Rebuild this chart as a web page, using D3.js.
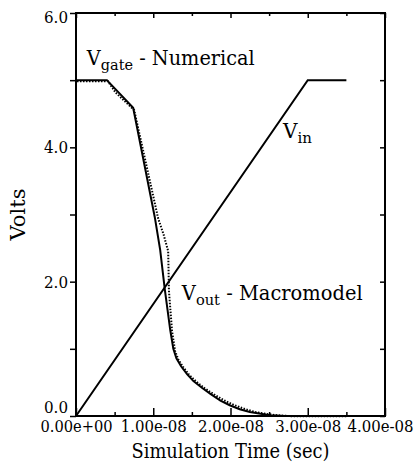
<!DOCTYPE html>
<html lang="en">
<head>
  <meta charset="UTF-8">
  <title>Vgate / Vout transient</title>
  <script src="https://d3js.org/d3.v7.min.js"></script>
  <style>
    body { margin: 0; background: #fff; }
    svg { display: block; }
    svg text { font-family: "DejaVu Serif", serif; fill: #000; }
    .tick text { font-size: 16px; }
    .tick line { stroke: #000; stroke-width: 1.5px; }
    .label { font-size: 20px; }
  </style>
</head>
<body>
  <svg width="420" height="464"></svg>

  <script>
    // time in seconds, volts
    const vinTime = [0, 3.0e-8, 3.5e-8];
    const vinVolts = [0, 5.0, 5.0];

    const macroTime = [0, 0.40e-8, 0.74e-8, 1.02e-8, 1.09e-8, 1.15e-8, 1.22e-8, 1.26e-8, 1.30e-8, 1.36e-8,
      1.44e-8, 1.52e-8, 1.63e-8, 1.74e-8, 1.87e-8, 1.99e-8, 2.12e-8, 2.25e-8, 2.51e-8, 2.70e-8, 3.5e-8];
    const macroVolts = [5.0, 5.0, 4.59, 2.96, 2.47, 1.88, 1.28, 1.0, 0.86, 0.74,
      0.62, 0.52, 0.42, 0.33, 0.23, 0.16, 0.10, 0.06, 0.01, 0.0, 0.0];

    const numTime = [0, 0.40e-8, 0.50e-8, 0.74e-8, 1.05e-8, 1.12e-8, 1.18e-8, 1.185e-8, 1.19e-8, 1.23e-8, 1.27e-8,
      1.31e-8, 1.37e-8, 1.45e-8, 1.54e-8, 1.65e-8, 1.77e-8, 1.90e-8, 2.03e-8, 2.17e-8, 2.32e-8, 2.55e-8, 2.80e-8, 3.5e-8];
    const numVolts = [5.0, 5.0, 4.83, 4.57, 2.96, 2.72, 2.47, 2.2, 1.88, 1.28, 0.98,
      0.86, 0.75, 0.63, 0.53, 0.43, 0.34, 0.25, 0.18, 0.12, 0.07, 0.03, 0.01, 0.01];

    const xMajorTicks = [0, 1e-8, 2e-8, 3e-8, 4e-8];
    const xMinorTicks = [0.5e-8, 1.5e-8, 2.5e-8, 3.5e-8];
    const yTicks = [0, 1, 2, 3, 4, 5, 6];
    const yLabelTicks = [0, 2, 4, 6];

    const svg = d3.select("svg");
    const m = { left: 76, right: 385, top: 13, bottom: 416 };

    const x = d3.scaleLinear().domain([0, 4e-8]).range([m.left, m.right]);
    const y = d3.scaleLinear().domain([0, 6]).range([m.bottom, m.top]);

    const fmtX = d => d === 0 ? "0.00e+00" : d3.format(".2e")(d).replace(/e([+-])(\d)$/, "e$10$2");

    // squeeze a text horizontally (DejaVu Serif runs wider than the original Times)
    function squeeze(sel, w) {
      sel.attr("textLength", w).attr("lengthAdjust", "spacingAndGlyphs");
    }

    // bottom axis: major ticks with labels, minor ticks inward
    const bx = svg.append("g").attr("transform", `translate(0,${m.bottom})`)
      .call(d3.axisBottom(x).tickValues(xMajorTicks).tickSizeInner(-8).tickSizeOuter(0).tickPadding(5).tickFormat(fmtX));
    bx.selectAll(".tick text")
      .attr("dx", d => d === 4e-8 ? -5 : 0)
      .each(function(d) { squeeze(d3.select(this), d === 0 ? 72 : 66); });
    svg.append("g").attr("transform", `translate(0,${m.bottom})`)
      .call(d3.axisBottom(x).tickValues(xMinorTicks).tickSizeInner(-4).tickSizeOuter(0).tickFormat(""));

    // top axis, ticks point down
    svg.append("g").attr("transform", `translate(0,${m.top})`)
      .call(d3.axisTop(x).tickValues(xMajorTicks).tickSizeInner(-5).tickSizeOuter(0).tickFormat(""));
    svg.append("g").attr("transform", `translate(0,${m.top})`)
      .call(d3.axisTop(x).tickValues(xMinorTicks).tickSizeInner(-3).tickSizeOuter(0).tickFormat(""));

    // left axis, ticks outward
    const ly = svg.append("g").attr("transform", `translate(${m.left},0)`)
      .call(d3.axisLeft(y).tickValues(yTicks).tickSize(6).tickPadding(2)
        .tickFormat(d => yLabelTicks.includes(d) ? d3.format(".1f")(d) : ""));
    ly.selectAll(".tick text")
      .attr("dy", d => d === 0 ? "-0.25em" : d === 6 ? "0.6em" : "0.35em")
      .each(function(d) { if (yLabelTicks.includes(d)) squeeze(d3.select(this), 24); });

    // right axis, ticks inward
    svg.append("g").attr("transform", `translate(${m.right},0)`)
      .call(d3.axisRight(y).tickValues(yTicks).tickSizeInner(-5).tickSizeOuter(0).tickFormat(""));

    svg.selectAll(".domain").remove();
    svg.selectAll("g").attr("font-family", null);

    svg.append("rect")
      .attr("x", m.left).attr("y", m.top)
      .attr("width", m.right - m.left).attr("height", m.bottom - m.top)
      .attr("fill", "none").attr("stroke", "#000").attr("stroke-width", 2);

    const line = d3.line().x(d => x(d[0])).y(d => y(d[1]));

    svg.append("path")
      .datum(d3.zip(vinTime, vinVolts))
      .attr("d", line)
      .attr("fill", "none").attr("stroke", "#000").attr("stroke-width", 2);

    svg.append("path")
      .datum(d3.zip(macroTime, macroVolts))
      .attr("d", line)
      .attr("fill", "none").attr("stroke", "#000").attr("stroke-width", 2);

    svg.append("path")
      .datum(d3.zip(numTime, numVolts))
      .attr("d", line)
      .attr("transform", "translate(1,1)")
      .attr("fill", "none").attr("stroke", "#000").attr("stroke-width", 2)
      .attr("stroke-dasharray", "1.5,1.5");

    // axis titles
    svg.append("text")
      .attr("class", "label")
      .attr("x", (m.left + m.right) / 2).attr("y", 458)
      .attr("text-anchor", "middle")
      .text("Simulation Time (sec)")
      .call(squeeze, 198);

    svg.append("text")
      .attr("class", "label")
      .attr("transform", `translate(25,${(m.top + m.bottom) / 2}) rotate(-90)`)
      .attr("text-anchor", "middle")
      .text("Volts")
      .call(squeeze, 52);

    // curve annotations, scaled to the original widths
    function annotate(t, v, sub, rest, width) {
      const g = svg.append("g").attr("transform", `translate(${x(t)},${y(v)})`);
      const txt = g.append("text").attr("class", "label");
      txt.append("tspan").text("V");
      txt.append("tspan").attr("dy", 5).attr("font-size", 15).text(sub);
      if (rest) txt.append("tspan").attr("dy", -5).text(rest);
      const len = txt.node().getComputedTextLength();
      txt.attr("transform", `scale(${width / len},1)`);
    }
    annotate(0.14e-8, 5.23, "gate", " - Numerical", 168);
    annotate(2.68e-8, 4.14, "in", "", 29);
    annotate(1.37e-8, 1.73, "out", " - Macromodel", 181);
  </script>
</body>
</html>
